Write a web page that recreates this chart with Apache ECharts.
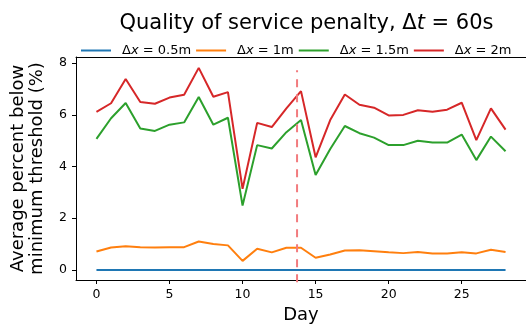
<!DOCTYPE html>
<html>
<head>
<meta charset="utf-8">
<script src="https://cdn.jsdelivr.net/npm/echarts@6/dist/echarts.min.js"></script>
<style>
  html, body { margin: 0; padding: 0; background: #fff; }
  #chart { width: 526px; height: 329px; }
</style>
</head>
<body>
<div id="chart"></div>
<script>
// Days of the month (x values)
const days = [0,1,2,3,4,5,6,7,8,9,10,11,12,13,14,15,16,17,18,19,20,21,22,23,24,25,26,27,28];

// Average percent of time below the minimum threshold, per spatial resolution
const dx05 = [0,0,0,0,0,0,0,0,0,0,0,0,0,0,0,0,0,0,0,0,0,0,0,0,0,0,0,0,0];
const dx1  = [0.71,0.87,0.92,0.88,0.87,0.88,0.88,1.10,1.00,0.95,0.35,0.82,0.68,0.86,0.86,
              0.47,0.60,0.75,0.76,0.72,0.68,0.65,0.69,0.64,0.64,0.68,0.64,0.78,0.69];
const dx15 = [5.07,5.87,6.46,5.47,5.38,5.62,5.71,6.69,5.62,5.89,2.49,4.83,4.70,5.33,5.80,
              3.67,4.68,5.57,5.29,5.12,4.83,4.83,5.00,4.93,4.93,5.24,4.25,5.16,4.59];
const dx2  = [6.12,6.45,7.39,6.50,6.43,6.67,6.78,7.82,6.70,6.88,3.14,5.69,5.53,6.25,6.92,
              4.36,5.80,6.79,6.39,6.28,5.98,6.00,6.18,6.12,6.20,6.47,5.02,6.25,5.43];

// Change point marked with a dashed vertical line
const changeDay = 13.73;
const changeSpan = [-0.48, 7.73];

const xTicks = [0, 5, 10, 15, 20, 25];
const yTicks = [0, 2, 4, 6, 8];

const seriesNames = ['0.5m', '1m', '1.5m', '2m'];
const seriesValues = [dx05, dx1, dx15, dx2];
const colors = ['#1f77b4', '#ff7f0e', '#2ca02c', '#d62728'];

const FONT = 'DejaVu Sans';
const X_MIN = -1.4, X_MAX = 29.4;

const lineSeries = seriesNames.map((n, k) => ({
  name: n,
  type: 'line',
  symbol: 'none',
  data: days.map((d, i) => [d, seriesValues[k][i]]),
  lineStyle: { width: 2, color: colors[k] },
  itemStyle: { color: colors[k] },
  z: 3 + k
}));

lineSeries.push({
  name: 'change',
  type: 'line',
  symbol: 'none',
  silent: true,
  clip: false,
  data: [[changeDay, changeSpan[0]], [changeDay, changeSpan[1]]],
  lineStyle: { width: 2, color: '#f27b7e', type: [8, 7] },
  z: 8
});

const rich = size => ({
  n: { fontFamily: FONT, fontSize: size, color: '#000' },
  i: { fontFamily: FONT, fontSize: size, color: '#000', fontStyle: 'italic' }
});

const chart = echarts.init(document.getElementById('chart'), null, { renderer: 'canvas' });
chart.setOption({
  animation: false,
  backgroundColor: '#fff',
  title: {
    text: '{n|Quality of service penalty, Δ}{i|t}{n| = 60s}',
    left: 301.5,
    textAlign: 'center',
    top: 8,
    textStyle: { fontFamily: FONT, fontSize: 21, fontWeight: 'normal', color: '#000', rich: rich(21) }
  },
  legend: {
    data: seriesNames,
    left: 81,
    top: 44,
    icon: 'rect',
    itemWidth: 30,
    itemHeight: 2,
    itemGap: 5,
    padding: 0,
    formatter: n => '{n|Δ}{i|x}{n| = ' + n + '}',
    textStyle: { fontFamily: FONT, fontSize: 13, color: '#000', padding: [0, 0, 0, 6], rich: rich(13) }
  },
  grid: { left: 76, top: 57, width: 451, height: 223 },
  xAxis: [{
    type: 'value',
    min: X_MIN, max: X_MAX,
    name: 'Day',
    nameLocation: 'middle',
    nameGap: 26,
    nameTextStyle: { fontFamily: FONT, fontSize: 18, color: '#000' },
    splitLine: { show: false },
    axisLine: { show: true, onZero: false, lineStyle: { color: '#000', width: 1 } },
    axisTick: { show: true, inside: false, length: 4, customValues: xTicks, lineStyle: { color: '#000' } },
    axisLabel: { customValues: xTicks, fontFamily: FONT, fontSize: 12.5, color: '#000', margin: 8 }
  }, {
    type: 'value',
    position: 'top',
    min: X_MIN, max: X_MAX,
    splitLine: { show: false },
    axisLine: { show: true, onZero: false, lineStyle: { color: '#000', width: 1 } },
    axisTick: { show: false },
    axisLabel: { show: false }
  }],
  yAxis: {
    type: 'value',
    min: -0.39, max: 8.24,
    name: 'Average percent below\nminimum threshold (%)',
    nameLocation: 'middle',
    nameRotate: 90,
    nameGap: 29,
    nameTextStyle: { fontFamily: FONT, fontSize: 18, color: '#000', lineHeight: 19 },
    splitLine: { show: false },
    axisLine: { show: true, onZero: false, lineStyle: { color: '#000', width: 1 } },
    axisTick: { show: true, inside: false, length: 4, customValues: yTicks, lineStyle: { color: '#000' } },
    axisLabel: { customValues: yTicks, fontFamily: FONT, fontSize: 12.5, color: '#000', margin: 9 }
  },
  series: lineSeries
});
</script>
</body>
</html>
